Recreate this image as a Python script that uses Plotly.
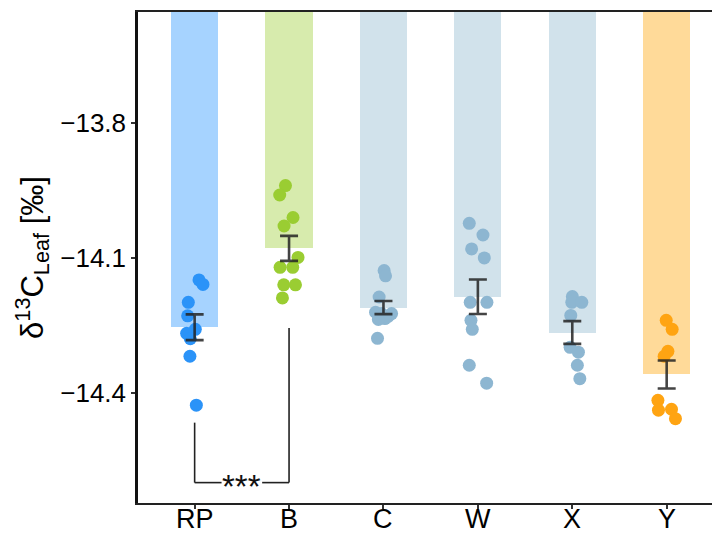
import numpy as np
import plotly.graph_objects as go

categories = ["RP", "B", "C", "W", "X", "Y"]

rp_vals = [-14.149, -14.159, -14.199, -14.229, -14.259, -14.268, -14.280, -14.319, -14.428]
b_vals = [-13.939, -13.960, -14.010, -14.029, -14.099, -14.121, -14.121, -14.160, -14.160, -14.189]
c_vals = [-14.128, -14.140, -14.187, -14.221, -14.224, -14.224, -14.230, -14.235, -14.237, -14.279]
w_vals = [-14.023, -14.049, -14.080, -14.100, -14.199, -14.199, -14.239, -14.259, -14.339, -14.379]
x_vals = [-14.186, -14.199, -14.199, -14.228, -14.299, -14.310, -14.339, -14.369]
y_vals = [-14.239, -14.259, -14.308, -14.319, -14.417, -14.439, -14.437, -14.458]

# horizontal jitter (category units)
rp_jit = [0.046, 0.088, -0.067, -0.074, 0.007, -0.085, -0.046, -0.050, 0.018]
b_jit = [-0.038, -0.099, 0.042, -0.053, 0.095, -0.095, 0.039, -0.056, 0.068, -0.070]
c_jit = [0.007, 0.022, -0.046, -0.084, 0.086, -0.020, 0.050, 0.015, -0.054, -0.063]
w_jit = [-0.091, 0.054, -0.066, 0.068, -0.081, 0.096, -0.073, -0.059, -0.091, 0.093]
x_jit = [0.001, -0.005, 0.101, -0.016, -0.023, 0.065, 0.054, 0.080]
y_jit = [-0.005, 0.058, 0.013, -0.027, -0.093, -0.087, 0.051, 0.093]

y_ticks = [-13.8, -14.1, -14.4]
sig_label = "***"

groups = [rp_vals, b_vals, c_vals, w_vals, x_vals, y_vals]
jitters = [rp_jit, b_jit, c_jit, w_jit, x_jit, y_jit]
point_colors = ["#2B93F8", "#9ACD32", "#8DB6D1", "#8DB6D1", "#8DB6D1", "#FFA412"]
bar_colors = ["#A6D3FF", "#D7EBAD", "#D1E2EB", "#D1E2EB", "#D1E2EB", "#FFDA99"]

means = [float(np.mean(g)) for g in groups]
ses = [float(np.std(g, ddof=1) / np.sqrt(len(g))) for g in groups]

fig = go.Figure()
fig.add_trace(go.Bar(x=list(range(6)), y=means, width=0.5, marker=dict(color=bar_colors, line=dict(width=0)),
                     showlegend=False, hoverinfo="skip"))
for i, (g, j) in enumerate(zip(groups, jitters)):
    fig.add_trace(go.Scatter(x=[i + d for d in j], y=g, mode="markers",
                             marker=dict(size=13, color=point_colors[i], line=dict(width=0)),
                             showlegend=False))
fig.add_trace(go.Scatter(x=list(range(6)), y=means, mode="markers", marker=dict(size=0.1, color="rgba(0,0,0,0)"),
                         error_y=dict(type="data", array=ses, visible=True, color="rgba(35,35,35,0.85)",
                                      thickness=2.6, width=9),
                         showlegend=False))

# significance bracket between RP and B
y_bot = -14.6003
line_style = dict(color="#222222", width=1.6)
fig.add_shape(type="line", x0=0, x1=0, y0=-14.4668, y1=y_bot, line=line_style, layer="above")
fig.add_shape(type="line", x0=1, x1=1, y0=-14.2563, y1=y_bot, line=line_style, layer="above")
fig.add_shape(type="line", x0=0, x1=0.285, y0=y_bot, y1=y_bot, line=line_style, layer="above")
fig.add_shape(type="line", x0=0.715, x1=1, y0=y_bot, y1=y_bot, line=line_style, layer="above")
fig.add_annotation(x=0.5, y=y_bot, text=sig_label, showarrow=False, yanchor="middle", yshift=-4,
                   font=dict(family="Liberation Sans, Arial", size=33, color="#111111"))

# category labels under the x axis
for i, lab in enumerate(categories):
    fig.add_annotation(x=i, xref="x", y=0, yref="paper", text=lab, showarrow=False,
                       yanchor="top", yshift=1, font=dict(family="Liberation Sans, Arial", size=27, color="#000000"))

fig.update_layout(
    width=712, height=536,
    margin=dict(l=138, r=0, t=12, b=33),
    paper_bgcolor="white", plot_bgcolor="white",
    font=dict(family="Liberation Sans, Arial", color="#000000"),
    bargap=0,
)
fig.update_xaxes(
    range=[-0.6, 5.48], tickmode="array", tickvals=list(range(6)), ticktext=categories,
    showticklabels=False,
    showline=True, linecolor="#222222", linewidth=2, mirror=True,
    ticks="outside", ticklen=4, tickwidth=1.5, tickcolor="#333333",
    showgrid=False, zeroline=False, automargin=False,
)
fig.update_yaxes(
    range=[-14.6457, -13.5525], tickmode="array", tickvals=y_ticks,
    showline=True, linecolor="#111111", linewidth=2.5, mirror=False,
    ticks="outside", ticklen=4, tickwidth=1.5, tickcolor="#333333",
    tickfont=dict(size=26, color="#000000"), showgrid=False, zeroline=False,
    title=dict(text="δ<sup>13</sup>C<sub>Leaf</sub> [‰]", font=dict(size=31, color="#000000"), standoff=8),
    automargin=False,
)

fig.write_html("out.html")
